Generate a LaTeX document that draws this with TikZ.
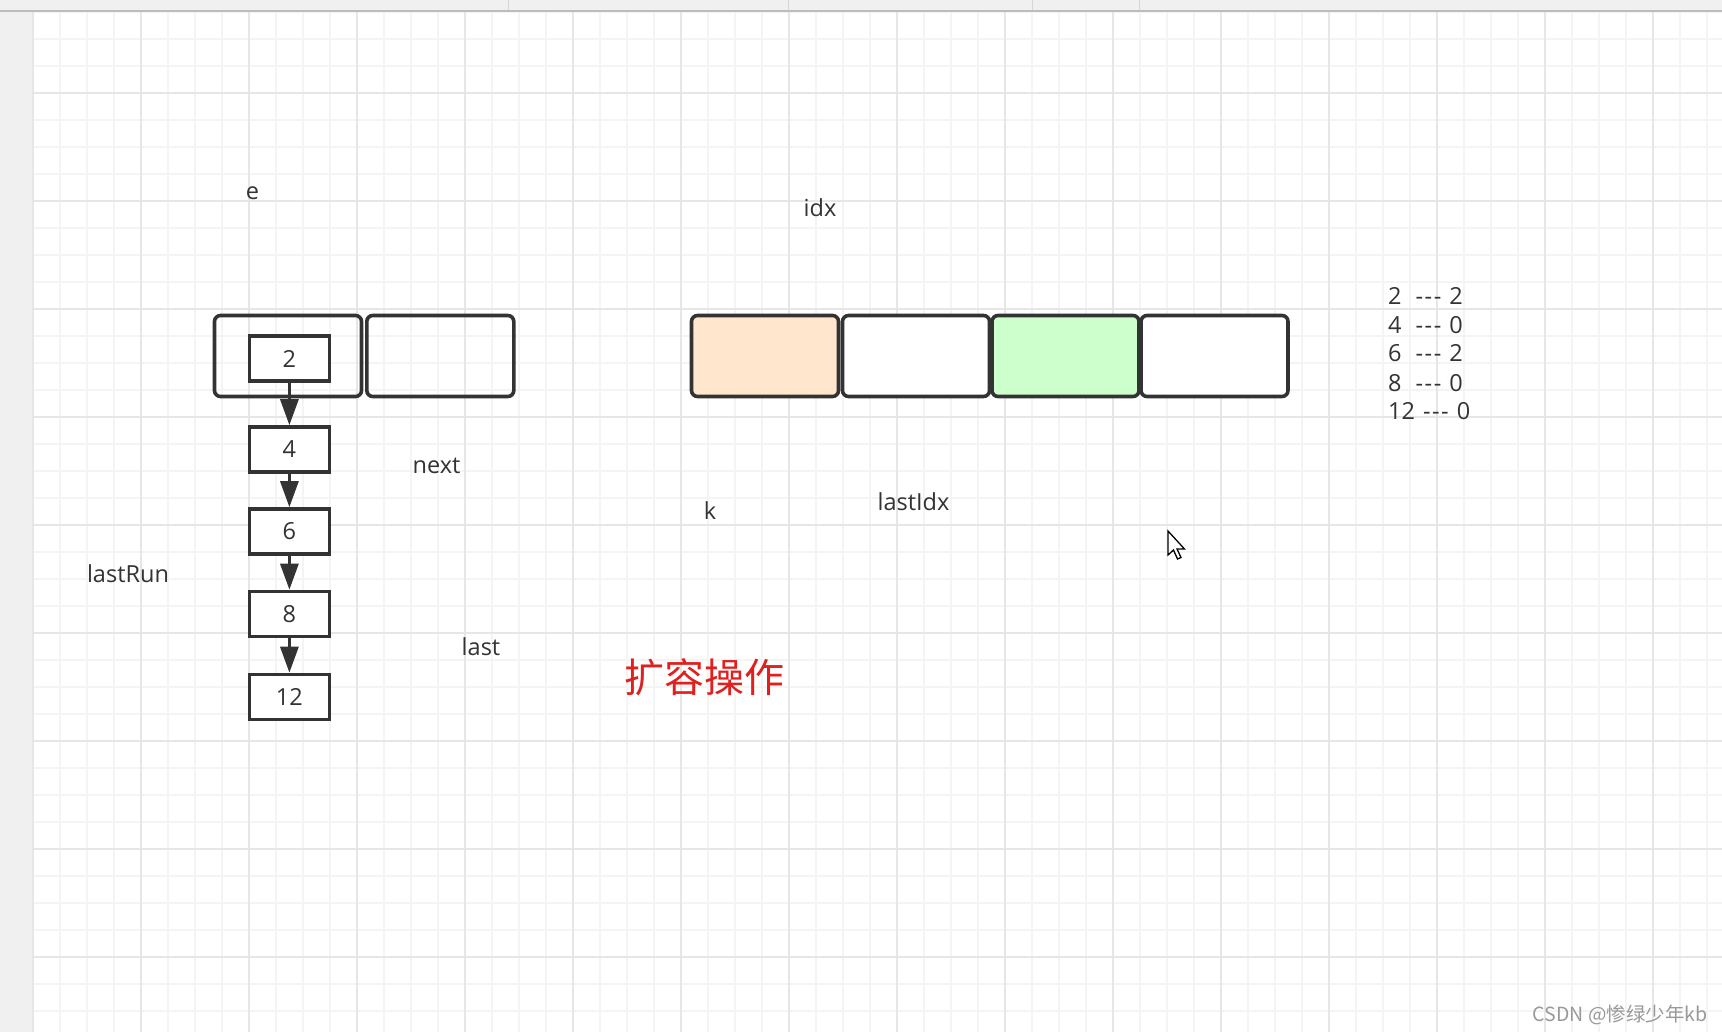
\documentclass[tikz,border=0pt]{standalone}
\usepackage{fontspec}
\setmainfont{Open Sans}
\newfontfamily\cjk{Noto Sans CJK SC}
\usetikzlibrary{arrows.meta}
\definecolor{ink}{HTML}{333333}
\definecolor{gminor}{HTML}{F4F4F4}
\definecolor{gmajor}{HTML}{E6E6E6}
\definecolor{peach}{HTML}{FFE6CC}
\definecolor{mint}{HTML}{CCFFCC}
\definecolor{redtxt}{HTML}{E0201E}
\definecolor{chrome}{HTML}{F0F0F0}
\definecolor{chromeline}{HTML}{BDBDBD}
\definecolor{chromesep}{HTML}{D6D6D6}
\definecolor{wmgray}{HTML}{999999}
\begin{document}
\begin{tikzpicture}[x=1pt,y=-1pt,
  bucket/.style={draw=ink,line width=3.6pt,rounded corners=6pt,minimum width=147pt,minimum height=81pt,inner sep=0pt},
  elem/.style={draw=ink,line width=3.6pt,fill=white,minimum width=80pt,minimum height=45pt,inner sep=0pt,text=ink,font=\fontsize{23.5}{28}\selectfont},
  lbl/.style={text=ink,font=\fontsize{23.5}{28}\selectfont,inner sep=0pt,anchor=base},
  tbl/.style={text=ink,font=\fontsize{23.5}{28}\selectfont,inner sep=0pt,anchor=base west},
  link/.style={draw=ink,line width=3pt,-{Triangle[length=26pt,width=18pt]}}]
\newcommand\dsh{-\kern1.5pt-\kern1.5pt-}
\useasboundingbox (0,0) rectangle (1722,1032);
\fill[white] (0,0) rectangle (1722,1032);
% grid
\foreach \i in {0,...,62} \draw[gminor,line width=1.2pt] ({33+27*\i},12) -- ({33+27*\i},1032);
\foreach \j in {0,...,37} \draw[gminor,line width=1.2pt] (33,{12+27*\j}) -- (1722,{12+27*\j});
\foreach \i in {0,...,15} \draw[gmajor,line width=1.4pt] ({33+108*\i},12) -- ({33+108*\i},1032);
\foreach \j in {0,...,8} \draw[gmajor,line width=1.4pt] (33,{93+108*\j}) -- (1722,{93+108*\j});
% window chrome
\fill[chrome] (0,0) rectangle (1722,11);
\draw[chromeline,line width=2pt] (0,11) -- (1722,11);
\foreach \x in {508,788,1032,1139} \draw[chromesep,line width=1pt] (\x,0) -- (\x,10);
\fill[chrome] (0,12) rectangle (32,1032);
% left buckets
\node[bucket] (b1) at (288,356) {};
\node[bucket] (b2) at (440.3,356) {};
% chain
\node[elem] (n2) at (289.4,358.5) {2};
\node[elem] (n4) at (289.4,449.5) {4};
\node[elem] (n6) at (289.4,531.5) {6};
\node[elem] (n8) at (289.4,614) {8};
\node[elem] (n12) at (289.4,697) {12};
\draw[link] (n2.south) -- (n4.north);
\draw[link] (n4.south) -- (n6.north);
\draw[link] (n6.south) -- (n8.north);
\draw[link] (n8.south) -- (n12.north);
% new table
\node[bucket,fill=peach] (a0) at (765,356) {};
\node[bucket,fill=white] (a1) at (916,356) {};
\node[bucket,fill=mint] (a2) at (1065.5,356) {};
\node[bucket,fill=white] (a3) at (1214.5,356) {};
% labels
\node[lbl] (le) at (252.5,200) {e};
\node[lbl] (lidx) at (820,216.3) {idx};
\node[lbl] (lnext) at (436.5,473) {next};
\node[lbl] (lrun) at (128,582) {lastRun};
\node[lbl] (llast) at (481,655.5) {last};
\node[lbl] (lk) at (710,519) {k};
\node[lbl] (llidx) at (913.5,510.5) {lastIdx};
% mapping list
\node[tbl] (t1) at (1388,305) {2\hspace{14pt}\dsh\hspace{8pt}2};
\node[tbl] (t2) at (1388,334) {4\hspace{14pt}\dsh\hspace{8pt}0};
\node[tbl] (t3) at (1388,362) {6\hspace{14pt}\dsh\hspace{8pt}2};
\node[tbl] (t4) at (1388,391) {8\hspace{14pt}\dsh\hspace{8pt}0};
\node[tbl] (t5) at (1388,419.5) {12\hspace{8pt}\dsh\hspace{8pt}0};
% title
\node[text=redtxt,font=\cjk\fontsize{40}{44}\selectfont,inner sep=0pt] (title) at (704.5,677.5) {扩容操作};
% mouse cursor
\draw[black,fill=white,line width=1.3pt,line join=miter] (1168,531) -- ++(0,24) -- ++(5.5,-5) -- ++(4,9) -- ++(3.5,-1.5) -- ++(-4,-8.5) -- ++(7.5,0) -- cycle;
% watermark
\node[text=wmgray,font=\cjk\fontsize{19.5}{22}\selectfont,inner sep=0pt,anchor=base] (wm) at (1620,1021) {CSDN @惨绿少年kb};
\end{tikzpicture}
\end{document}
